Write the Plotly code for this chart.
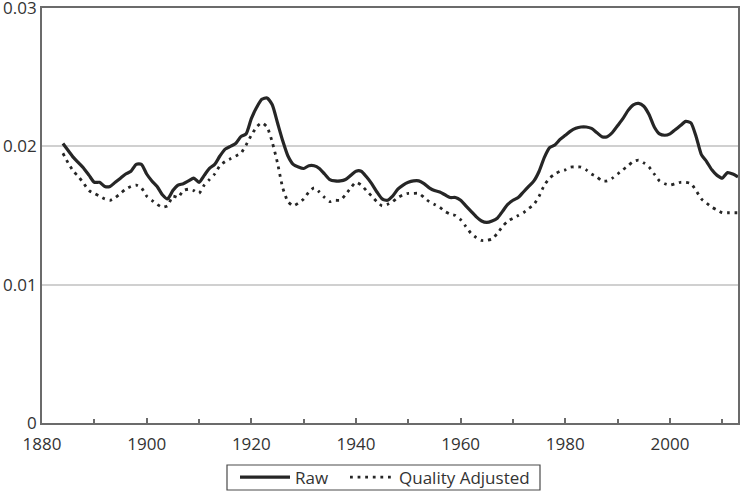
import plotly.graph_objects as go

years = list(range(1884, 2014))

raw = [
    0.0202, 0.0197, 0.0192, 0.0188, 0.0184, 0.0179, 0.0174, 0.0174, 0.0171, 0.0171,  # 1884-1893
    0.0174, 0.0177, 0.0180, 0.0182, 0.0187, 0.0187, 0.0180, 0.0175, 0.0171, 0.0165,  # 1894-1903
    0.0162, 0.0168, 0.0172, 0.0173, 0.0175, 0.0177, 0.0174, 0.0179, 0.0184, 0.0187,  # 1904-1913
    0.0193, 0.0198, 0.0200, 0.0202, 0.0207, 0.0209, 0.0220, 0.0228, 0.0234, 0.0235,  # 1914-1923
    0.0230, 0.0217, 0.0204, 0.0193, 0.0187, 0.0185, 0.0184, 0.0186, 0.0186, 0.0184,  # 1924-1933
    0.0180, 0.0176, 0.0175, 0.0175, 0.0176, 0.0179, 0.0182, 0.0182, 0.0178, 0.0173,  # 1934-1943
    0.0167, 0.0162, 0.0161, 0.0164, 0.0169, 0.0172, 0.0174, 0.0175, 0.0175, 0.0173,  # 1944-1953
    0.0170, 0.0168, 0.0167, 0.0165, 0.0163, 0.0163, 0.0161, 0.0157, 0.0153, 0.0149,  # 1954-1963
    0.0146, 0.0145, 0.0146, 0.0148, 0.0153, 0.0158, 0.0161, 0.0163, 0.0167, 0.0171,  # 1964-1973
    0.0175, 0.0182, 0.0192, 0.0199, 0.0201, 0.0205, 0.0208, 0.0211, 0.0213, 0.0214,  # 1974-1983
    0.0214, 0.0213, 0.0210, 0.0207, 0.0207, 0.0210, 0.0215, 0.0220, 0.0226, 0.0230,  # 1984-1993
    0.0231, 0.0229, 0.0223, 0.0214, 0.0209, 0.0208, 0.0209, 0.0212, 0.0215, 0.0218,  # 1994-2003
    0.0217, 0.0207, 0.0194, 0.0189, 0.0183, 0.0179, 0.0177, 0.0181, 0.0180, 0.0178,  # 2004-2013
]

quality_adjusted = [
    0.0195, 0.0188, 0.0182, 0.0178, 0.0173, 0.0168, 0.0166, 0.0164, 0.0162, 0.0161,  # 1884-1893
    0.0163, 0.0166, 0.0169, 0.0171, 0.0172, 0.0170, 0.0164, 0.0161, 0.0158, 0.0156,  # 1894-1903
    0.0157, 0.0164, 0.0163, 0.0168, 0.0169, 0.0168, 0.0166, 0.0172, 0.0176, 0.0180,  # 1904-1913
    0.0186, 0.0189, 0.0191, 0.0193, 0.0195, 0.0201, 0.0208, 0.0214, 0.0217, 0.0214,  # 1914-1923
    0.0203, 0.0188, 0.0170, 0.0160, 0.0157, 0.0159, 0.0162, 0.0167, 0.0170, 0.0167,  # 1924-1933
    0.0163, 0.0160, 0.0161, 0.0161, 0.0165, 0.0170, 0.0174, 0.0172, 0.0168, 0.0164,  # 1934-1943
    0.0160, 0.0157, 0.0158, 0.0160, 0.0163, 0.0165, 0.0166, 0.0166, 0.0166, 0.0163,  # 1944-1953
    0.0160, 0.0158, 0.0156, 0.0153, 0.0151, 0.0150, 0.0147, 0.0142, 0.0137, 0.0134,  # 1954-1963
    0.0132, 0.0132, 0.0133, 0.0137, 0.0142, 0.0146, 0.0148, 0.0150, 0.0152, 0.0155,  # 1964-1973
    0.0158, 0.0164, 0.0172, 0.0177, 0.0180, 0.0182, 0.0183, 0.0185, 0.0185, 0.0185,  # 1974-1983
    0.0183, 0.0180, 0.0178, 0.0175, 0.0175, 0.0177, 0.0180, 0.0183, 0.0186, 0.0189,  # 1984-1993
    0.0190, 0.0188, 0.0185, 0.0180, 0.0175, 0.0173, 0.0172, 0.0173, 0.0174, 0.0174,  # 1994-2003
    0.0173, 0.0168, 0.0162, 0.0159, 0.0156, 0.0154, 0.0152, 0.0152, 0.0152, 0.0152,  # 2004-2013
]

x_tick_vals = [1880, 1900, 1920, 1940, 1960, 1980, 2000]
x_tick_text = ["1880", "1900", "1920", "1940", "1960", "1980", "2000"]
y_tick_vals = [0, 0.01, 0.02, 0.03]
y_tick_text = ["0", "0.01", "0.02", "0.03"]

FONT = "Open Sans, Noto Sans, sans-serif"
AXIS_COL = "#6b6b6b"
LINE_COL = "#262626"

# plot area in pixels: left 42, right 738, top 8, bottom 423
PLOT_L, PLOT_W, PLOT_B, PLOT_H = 42, 696, 423, 415


def px_x(p):
    return (p - PLOT_L) / PLOT_W


def px_y(p):
    return (PLOT_B - p) / PLOT_H


fig = go.Figure()
fig.add_trace(go.Scatter(
    x=years, y=raw, name="Raw", mode="lines", legend="legend",
    line=dict(color=LINE_COL, width=3.2, shape="spline", smoothing=0.6),
))
fig.add_trace(go.Scatter(
    x=years, y=quality_adjusted, name="Quality Adjusted", mode="lines", legend="legend2",
    line=dict(color=LINE_COL, width=2.8, dash="2.8px,4.8px", shape="spline", smoothing=0.6),
))

# legend frame
fig.add_shape(
    type="rect", xref="paper", yref="paper",
    x0=px_x(227), x1=px_x(540), y0=px_y(490), y1=px_y(465),
    line=dict(color="#4a4a4a", width=1.2), fillcolor="rgba(0,0,0,0)",
)

legend_common = dict(
    orientation="h", xanchor="left", y=px_y(477.5), yanchor="middle",
    borderwidth=0, bgcolor="rgba(0,0,0,0)",
    font=dict(family=FONT, size=17, color="#333333"),
    tracegroupgap=0,
)

fig.update_layout(
    template="none",
    width=743, height=496,
    margin=dict(l=42, r=5, t=8, b=73, autoexpand=False),
    paper_bgcolor="white", plot_bgcolor="white",
    font=dict(family=FONT, size=17, color="#333333"),
    showlegend=True,
    legend=dict(x=px_x(235), itemwidth=50, **legend_common),
    legend2=dict(x=px_x(345), itemwidth=44, **legend_common),
    xaxis=dict(
        range=[1880, 2013], tickvals=x_tick_vals, ticktext=x_tick_text,
        ticks="inside", ticklen=5, tickwidth=1.5, tickcolor=AXIS_COL,
        minor=dict(dtick=10, tick0=1880, ticks="inside", ticklen=4, tickwidth=1.5, tickcolor=AXIS_COL, showgrid=False),
        showline=True, linecolor=AXIS_COL, linewidth=1.8, mirror=True,
        showgrid=False, zeroline=False, automargin=False,
        tickfont=dict(family=FONT, size=17, color="#333333"),
        ticklabelstandoff=5,
    ),
    yaxis=dict(
        range=[0, 0.03], tickvals=y_tick_vals, ticktext=y_tick_text,
        ticks="", showline=True, linecolor=AXIS_COL, linewidth=1.8, mirror=True,
        showgrid=True, gridcolor="#d0d0d0", gridwidth=1.5, zeroline=False,
        automargin=False, ticklabeloverflow="allow",
        tickfont=dict(family=FONT, size=17, color="#333333"),
        ticklabelstandoff=0,
    ),
)

fig.write_html("out.html")
